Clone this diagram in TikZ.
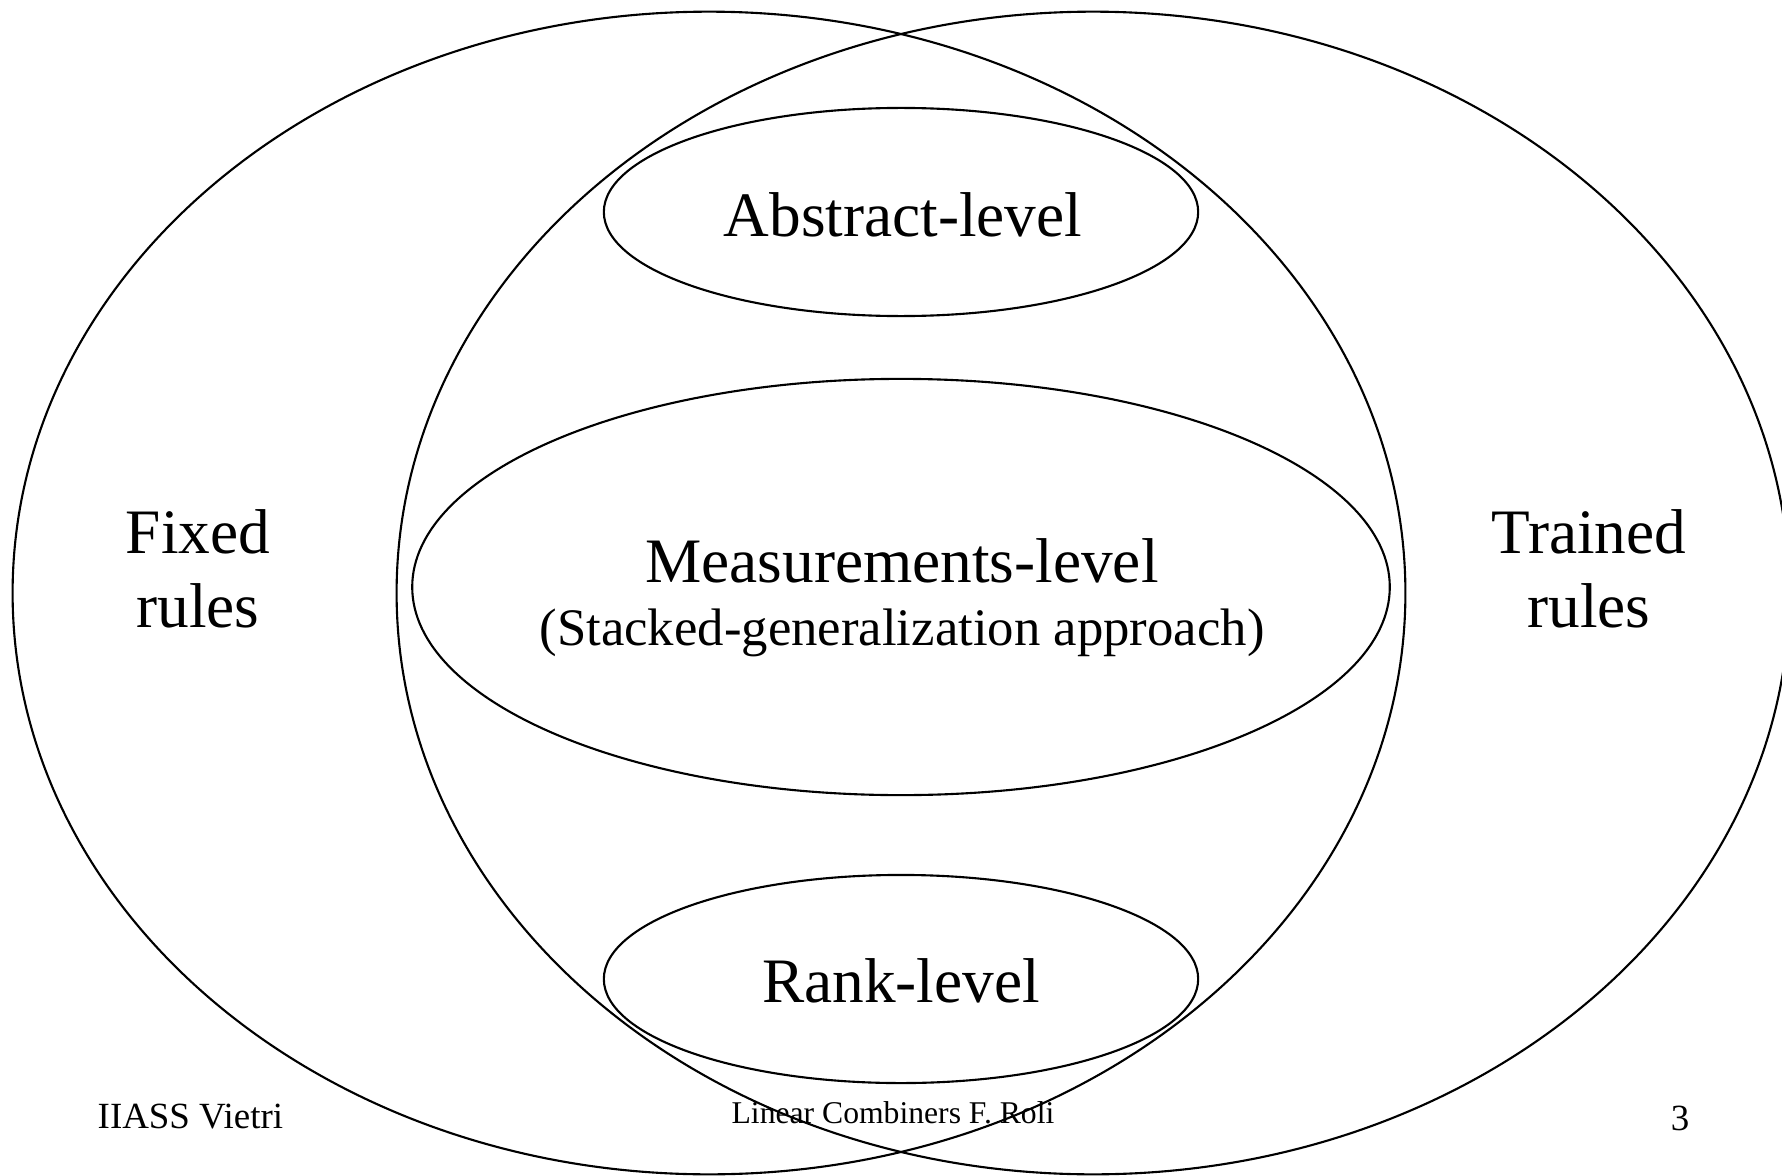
\documentclass[tikz,border=0pt]{standalone}
\usepackage{fontspec}
\setmainfont{Liberation Serif}
\usepackage{tikz}
\usetikzlibrary{shapes.geometric}
\tikzset{
  ring/.style={ellipse, draw, line width=0.6pt, inner sep=0pt},
  bigring/.style={ring, minimum width=13.92cm, minimum height=11.62cm},
  levelring/.style={ring, minimum width=5.94cm, minimum height=2.08cm},
  bigtext/.style={font=\fontsize{18}{21}\selectfont, inner sep=0pt, anchor=base, align=center},
  subtext/.style={font=\fontsize{15}{18}\selectfont, inner sep=0pt, anchor=base},
  foottext/.style={font=\fontsize{10.5}{12}\selectfont, inner sep=0pt, anchor=base},
}
\begin{document}
\begin{tikzpicture}[x=0.01cm, y=-0.01cm]
  \useasboundingbox (0,0) rectangle (1782,1176);
  % the two families of rules
  \node[bigring] (fixed) at (709,593) {};
  \node[bigring] (trained) at (1093,593) {};
  % the three levels
  \node[levelring] (abstract) at (901,212) {};
  \node[ring, minimum width=9.77cm, minimum height=4.16cm] (measure) at (901,587) {};
  \node[levelring] (rank) at (901,979) {};
  % labels
  \node[bigtext] (abstractlbl) at (903,236) {Abstract-level};
  \node[bigtext] (measurelbl) at (902,582) {Measurements-level};
  \node[subtext] (stackedlbl) at (902,645) {(Stacked-generalization approach)};
  \node[bigtext] (ranklbl) at (901,1002) {Rank-level};
  \node[bigtext] (fixedlbl) at (198,627) {Fixed\\rules};
  \node[bigtext] (trainedlbl) at (1589,627) {Trained\\rules};
  % footer
  \node[foottext, anchor=base west] (venue) at (97,1128) {IIASS Vietri};
  \node[foottext, font=\fontsize{9}{11}\selectfont] (title) at (893,1123) {Linear Combiners F. Roli};
  \node[foottext] (page) at (1680,1130) {3};
\end{tikzpicture}
\end{document}
